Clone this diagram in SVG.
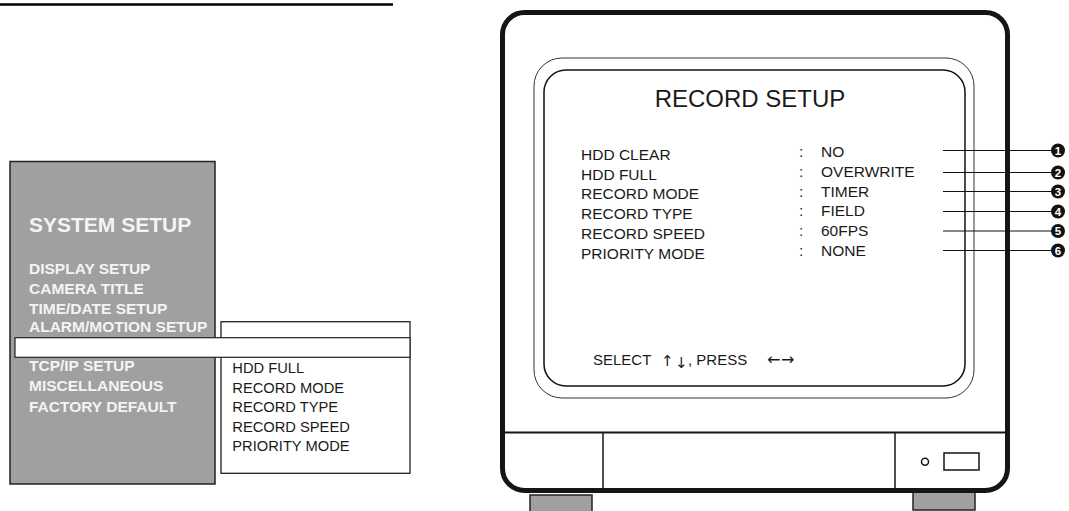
<svg xmlns="http://www.w3.org/2000/svg" width="1069" height="511" viewBox="0 0 1069 511">
<style>
.t{font-family:"Liberation Sans",Arial,sans-serif;fill:#1a1a1a}
.w{font-family:"Liberation Sans",Arial,sans-serif;font-weight:bold;fill:#f4f4f4}
.sym{font-family:"DejaVu Sans",sans-serif;fill:#1a1a1a}
.num{font-family:"Liberation Sans",Arial,sans-serif;font-weight:bold;fill:#ffffff;font-size:11.5px;text-anchor:middle}
.foot{fill:#a0a0a0;stroke:#222;stroke-width:1.5}
.lead{stroke:#111;stroke-width:1}
</style>
<rect width="1069" height="511" fill="#ffffff"/>
<line x1="0" y1="4.5" x2="393" y2="4.5" stroke="#000" stroke-width="2.5"/>

<g id="system-setup-menu">
<rect x="10" y="161.5" width="205" height="322.5" fill="#a0a0a0" stroke="#222" stroke-width="1.5"/>
<text class="w" x="29" y="231.5" font-size="21">SYSTEM SETUP</text>
<text class="w" x="29" y="274" font-size="15.5">DISPLAY SETUP</text>
<text class="w" x="29" y="293.5" font-size="15.5">CAMERA TITLE</text>
<text class="w" x="29" y="314.3" font-size="15.5">TIME/DATE SETUP</text>
<text class="w" x="29" y="332.3" font-size="15.5">ALARM/MOTION SETUP</text>
<text class="w" x="29" y="371" font-size="15.5">TCP/IP SETUP</text>
<text class="w" x="29" y="390.7" font-size="15.5">MISCELLANEOUS</text>
<text class="w" x="29" y="411.7" font-size="15.5">FACTORY DEFAULT</text>
</g>

<g id="record-submenu">
<rect x="221" y="321.7" width="189" height="151.6" fill="#ffffff" stroke="#222" stroke-width="1.3"/>
<text class="t" x="232.3" y="372.7" font-size="14.7">HDD FULL</text>
<text class="t" x="232.3" y="393.3" font-size="14.7">RECORD MODE</text>
<text class="t" x="232.3" y="412.3" font-size="14.7">RECORD TYPE</text>
<text class="t" x="232.3" y="432.3" font-size="14.7">RECORD SPEED</text>
<text class="t" x="232.3" y="451" font-size="14.7">PRIORITY MODE</text>
</g>

<g id="highlight-bar">
<rect x="15" y="337.7" width="395" height="19.6" fill="#ffffff" stroke="#222" stroke-width="1.2"/>
</g>

<g id="monitor">
<rect class="foot" x="530" y="495" width="62" height="20"/>
<rect class="foot" x="913" y="492" width="62" height="18"/>
<rect x="502.5" y="12.5" width="505" height="478" rx="22" ry="22" fill="#ffffff" stroke="#151515" stroke-width="5"/>
<line x1="502" y1="432.5" x2="1007" y2="432.5" stroke="#151515" stroke-width="2"/>
<line x1="603" y1="432.5" x2="603" y2="489" stroke="#151515" stroke-width="1.5"/>
<line x1="895" y1="432.5" x2="895" y2="489" stroke="#151515" stroke-width="1.5"/>
<circle cx="925" cy="461.7" r="3.5" fill="none" stroke="#151515" stroke-width="1.5"/>
<rect x="944" y="453" width="35" height="17" fill="none" stroke="#151515" stroke-width="1.5"/>
<rect x="534" y="58" width="440" height="340" rx="28" ry="28" fill="none" stroke="#333" stroke-width="1"/>
<rect x="544" y="70" width="421" height="316" rx="22" ry="22" fill="none" stroke="#111" stroke-width="1.5"/>
</g>

<g id="record-setup-screen">
<text class="t" x="750" y="107" font-size="24" text-anchor="middle">RECORD SETUP</text>
<text class="t" x="581" y="160" font-size="15.5">HDD CLEAR</text>
<text class="t" x="581" y="179.5" font-size="15.5">HDD FULL</text>
<text class="t" x="581" y="199" font-size="15.5">RECORD MODE</text>
<text class="t" x="581" y="219" font-size="15.5">RECORD TYPE</text>
<text class="t" x="581" y="239" font-size="15.5">RECORD SPEED</text>
<text class="t" x="581" y="258.5" font-size="15.5">PRIORITY MODE</text>
<text class="t" x="799" y="157" font-size="15.5">:</text>
<text class="t" x="799" y="177" font-size="15.5">:</text>
<text class="t" x="799" y="196.5" font-size="15.5">:</text>
<text class="t" x="799" y="216" font-size="15.5">:</text>
<text class="t" x="799" y="236" font-size="15.5">:</text>
<text class="t" x="799" y="255.5" font-size="15.5">:</text>
<text class="t" x="821" y="157" font-size="15.5">NO</text>
<text class="t" x="821" y="177" font-size="15.5">OVERWRITE</text>
<text class="t" x="821" y="196.5" font-size="15.5">TIMER</text>
<text class="t" x="821" y="216" font-size="15.5">FIELD</text>
<text class="t" x="821" y="236" font-size="15.5">60FPS</text>
<text class="t" x="821" y="255.5" font-size="15.5">NONE</text>
<text class="t" x="593" y="365" font-size="15">SELECT</text>
<text class="sym" x="661" y="366" font-size="15">↑</text>
<text class="sym" x="675" y="368" font-size="15">↓</text>
<text class="t" x="688" y="365" font-size="15">, PRESS</text>
<text class="sym" x="767" y="365" font-size="16">←</text>
<text class="sym" x="781" y="365" font-size="16">→</text>
</g>

<g id="connectors">
<line class="lead" x1="943" y1="150.5" x2="1052" y2="150.5"/>
<line class="lead" x1="943" y1="172.5" x2="1052" y2="172.5"/>
<line class="lead" x1="943" y1="191.5" x2="1052" y2="191.5"/>
<line class="lead" x1="943" y1="211.5" x2="1052" y2="211.5"/>
<line class="lead" x1="943" y1="231" x2="1052" y2="231"/>
<line class="lead" x1="943" y1="250.5" x2="1052" y2="250.5"/>
</g>

<g id="callout-1"><circle cx="1058" cy="150.5" r="7" fill="#111"/><text class="num" x="1058" y="154.6">1</text></g>
<g id="callout-2"><circle cx="1058" cy="172.5" r="7" fill="#111"/><text class="num" x="1058" y="176.6">2</text></g>
<g id="callout-3"><circle cx="1058" cy="191.5" r="7" fill="#111"/><text class="num" x="1058" y="195.6">3</text></g>
<g id="callout-4"><circle cx="1058" cy="211.5" r="7" fill="#111"/><text class="num" x="1058" y="215.6">4</text></g>
<g id="callout-5"><circle cx="1058" cy="231" r="7" fill="#111"/><text class="num" x="1058" y="235.1">5</text></g>
<g id="callout-6"><circle cx="1058" cy="250.5" r="7" fill="#111"/><text class="num" x="1058" y="254.6">6</text></g>
</svg>
